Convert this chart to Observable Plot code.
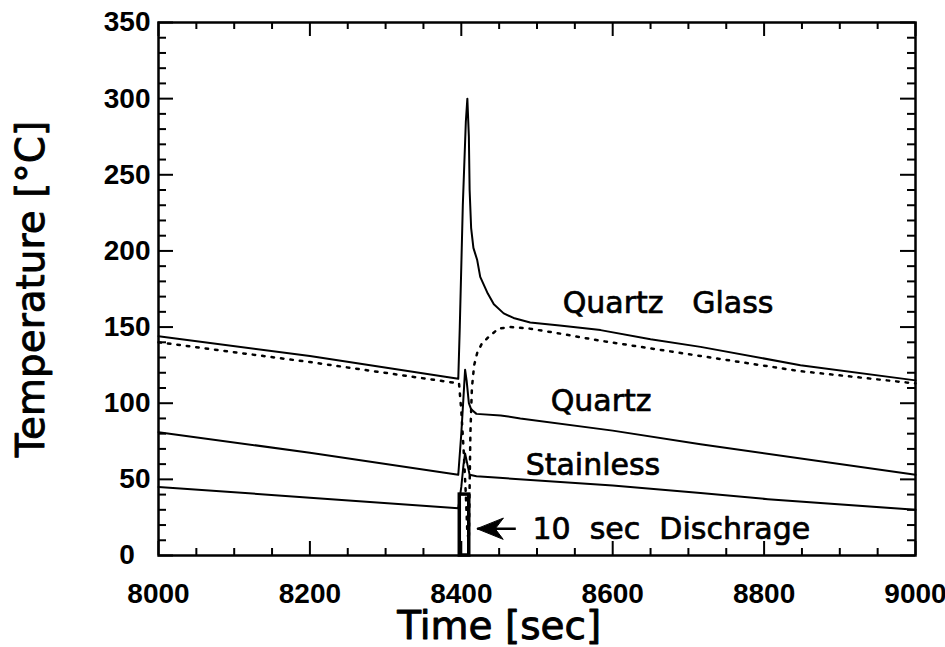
<!DOCTYPE html>
<html><head><meta charset="utf-8">
<script src="https://cdn.jsdelivr.net/npm/d3@7"></script>
<script src="https://cdn.jsdelivr.net/npm/@observablehq/plot@0.6"></script>
<style>body{margin:0;background:#fff}</style>
</head><body><div id="chart"></div>
<script>
// ---- data ----
const quartzGlassTime = [8000, 8200, 8396, 8398, 8402, 8406, 8408, 8410, 8411, 8413, 8416, 8421, 8425, 8435, 8443, 8456, 8469, 8491, 8530, 8584, 8650, 8716, 8848, 9000];
const quartzGlassTemp = [144, 131, 116, 150, 230, 285, 300, 275, 240, 215, 202, 194, 183, 172, 165, 159, 156, 153, 151, 148, 142, 137, 125, 115];

const quartzGlassDotTime = [8000, 8200, 8397, 8400, 8403, 8406, 8408, 8410, 8411, 8412, 8414, 8417, 8421, 8427, 8435, 8449, 8465, 8490, 8527, 8584, 8716, 8848, 9000];
const quartzGlassDotTemp = [140, 127, 113, 95, 70, 40, 15, 10, 45, 80, 110, 125, 133, 139, 143, 149, 150, 149, 146, 141, 131, 121, 113];

const quartzTime = [8000, 8200, 8396, 8400, 8403, 8405, 8407, 8410, 8413, 8420, 8452, 8478, 8600, 8716, 9000];
const quartzTemp = [81, 67.5, 53, 80, 105, 122, 115, 100, 96, 93, 92, 90, 82, 73, 53];

const stainlessTime = [8000, 8200, 8396, 8400, 8403, 8405, 8408, 8411, 8420, 8450, 8600, 8716, 8805, 9000];
const stainlessTemp = [45, 38, 31, 45, 60, 67, 60, 53, 52, 51, 46, 41, 37, 30];

const discharge = [{start: 8398, end: 8410.5, top: 40}];

const labelText = ["Quartz\u00a0\u00a0\u00a0Glass", "Quartz", "Stainless", "10\u00a0\u00a0sec\u00a0\u00a0Dischrage"];
const labelTime = [8534, 8518, 8485, 8494];
const labelTemp = [159, 95, 53, 11];
const arrowData = [{from: 8472, to: 8421, temp: 17.5}];

const xTickLabels = [8000, 8200, 8400, 8600, 8800, 9000];
const yTickLabels = [0, 50, 100, 150, 200, 250, 300, 350];
const xMinorTicks = d3.range(8000, 9001, 50).filter(d => (d - 8000) % 200 !== 0);
const yMinorTicks = d3.range(0, 351, 10).filter(d => d % 50 !== 0);

// ---- layout ----
const W = 945, H = 647;
const mL = 158, mR = 30, mT = 22, mB = 92;
const innerH = H - mT - mB, innerW = W - mL - mR;

const rows = (ts, vs) => ts.map((t, i) => ({t, v: vs[i]}));
const labels = labelText.map((s, i) => ({s, t: labelTime[i], v: labelTemp[i]}));

const tickFont = {fontFamily: "Liberation Sans, Arial, sans-serif", fontWeight: "bold", fontSize: 28};
const annFont = {fontFamily: "DejaVu Sans, sans-serif", fill: "black", stroke: "black", strokeWidth: 0.7};

// filled "stealth" arrow head, tip at the anchor point
const stealth = {
  draw(context, l) {
    context.moveTo(0, -l);
    context.lineTo(-10.5, 0);
    context.lineTo(0, -8);
    context.lineTo(10.5, 0);
    context.closePath();
  }
};

const chart = Plot.plot({
  width: W, height: H,
  marginLeft: mL, marginRight: mR, marginTop: mT, marginBottom: mB,
  style: {background: "white", color: "black", overflow: "visible"},
  x: {domain: [8000, 9000]},
  y: {domain: [0, 350]},
  marks: [
    // inward ticks: bottom & top, x
    Plot.tickX(xTickLabels, {x: d => d, insetTop: innerH - 14, strokeWidth: 2}),
    Plot.tickX(xTickLabels, {x: d => d, insetBottom: innerH - 14, strokeWidth: 2}),
    Plot.tickX(xMinorTicks, {x: d => d, insetTop: innerH - 7, strokeWidth: 2}),
    Plot.tickX(xMinorTicks, {x: d => d, insetBottom: innerH - 7, strokeWidth: 2}),
    // inward ticks: left & right, y
    Plot.tickY(yTickLabels, {y: d => d, insetRight: innerW - 15, strokeWidth: 2}),
    Plot.tickY(yTickLabels, {y: d => d, insetLeft: innerW - 15, strokeWidth: 2}),
    Plot.tickY(yMinorTicks, {y: d => d, insetRight: innerW - 8, strokeWidth: 2}),
    Plot.tickY(yMinorTicks, {y: d => d, insetLeft: innerW - 8, strokeWidth: 2}),
    Plot.axisX(xTickLabels, {tickSize: 0, tickPadding: 28, tickFormat: d => String(d), ...tickFont, label: null}),
    Plot.axisY(yTickLabels, {tickSize: 0, tickPadding: 8, tickFormat: d => d === 0 ? "0\u2007" : String(d), ...tickFont, label: null}),
    // data
    Plot.line(rows(quartzGlassDotTime, quartzGlassDotTemp), {x: "t", y: "v", stroke: "black", strokeWidth: 2.5, strokeDasharray: "2.5,7"}),
    Plot.line(rows(quartzGlassTime, quartzGlassTemp), {x: "t", y: "v", stroke: "black", strokeWidth: 2}),
    Plot.line(rows(quartzTime, quartzTemp), {x: "t", y: "v", stroke: "black", strokeWidth: 2}),
    Plot.line(rows(stainlessTime, stainlessTemp), {x: "t", y: "v", stroke: "black", strokeWidth: 2}),
    Plot.rect(discharge, {x1: "start", x2: "end", y1: 0, y2: "top", fill: "none", stroke: "black", strokeWidth: 3.5}),
    // arrow: shaft + filled head
    Plot.link(arrowData, {x1: "from", x2: "to", y1: "temp", y2: "temp", stroke: "black", strokeWidth: 2.5}),
    Plot.vector(arrowData, {x: "to", y: "temp", rotate: -90, length: 26, anchor: "end", shape: stealth, fill: "black", stroke: "black", strokeWidth: 1}),
    Plot.text(labels, {x: "t", y: "v", text: "s", textAnchor: "start", lineAnchor: "bottom", fontSize: 30, ...annFont}),
    // axis titles
    Plot.text(["Time [sec]"], {x: 8450, frameAnchor: "bottom", dy: 83, lineAnchor: "bottom", textAnchor: "middle", fontSize: 39, ...annFont, strokeWidth: 0.9}),
    Plot.text(["Temperature [°C]"], {y: 175, frameAnchor: "left", dx: -115, rotate: -90, lineAnchor: "bottom", textAnchor: "middle", fontSize: 39, ...annFont, strokeWidth: 0.9}),
    Plot.frame({stroke: "black", strokeWidth: 2.5})
  ]
});
document.getElementById("chart").append(chart);
</script>
</body></html>
